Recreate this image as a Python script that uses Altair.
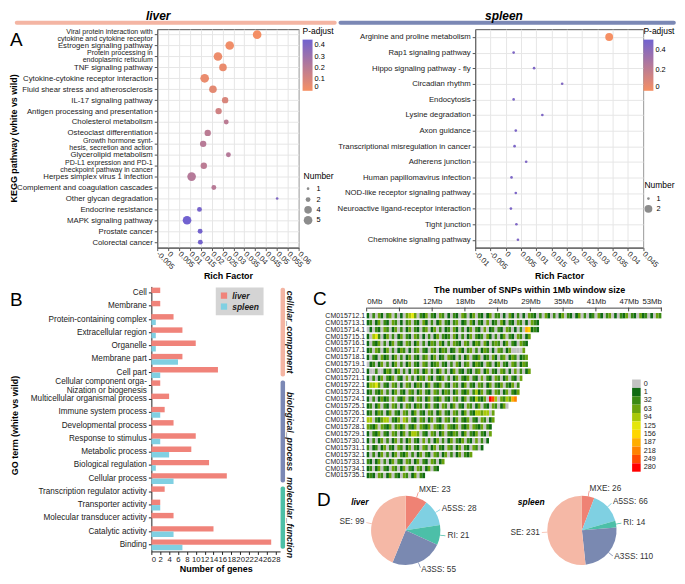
import altair as alt
import pandas as pd

FONT = "Liberation Sans"
ORANGE = "#f58a5c"
PURPLE = "#6a5acd"
LIVER_LINE = "#f4b5a3"
SPLEEN_LINE = "#7b88b5"

# ---------------- Panel A: KEGG enrichment ----------------
liver_pathways = [
    "Viral protein interaction with|cytokine and cytokine receptor",
    "Estrogen signaling pathway",
    "Protein processing in|endoplasmic reticulum",
    "TNF signaling pathway",
    "Cytokine-cytokine receptor interaction",
    "Fluid shear stress and atherosclerosis",
    "IL-17 signaling pathway",
    "Antigen processing and presentation",
    "Cholesterol metabolism",
    "Osteoclast differentiation",
    "Growth hormone synt-|hesis, secretion and action",
    "Glycerolipid metabolism",
    "PD-L1 expression and PD-1|checkpoint pathway in cancer",
    "Herpes simplex virus 1 infection",
    "Complement and coagulation cascades",
    "Other glycan degradation",
    "Endocrine resistance",
    "MAPK signaling pathway",
    "Prostate cancer",
    "Colorectal cancer",
]
liver_rich = [0.0409, 0.0283, 0.0229, 0.0252, 0.0168, 0.0206, 0.0262, 0.0232, 0.0267, 0.0182,
              0.0161, 0.0277, 0.0164, 0.0108, 0.0210, 0.0501, 0.0144, 0.0087, 0.0147, 0.0148]
liver_padj = [0.005, 0.02, 0.03, 0.04, 0.04, 0.06, 0.10, 0.13, 0.20, 0.20,
              0.21, 0.22, 0.20, 0.22, 0.21, 0.40, 0.43, 0.45, 0.44, 0.44]
liver_number = [5, 5, 5, 4, 5, 4, 3, 3, 2, 3, 3, 2, 3, 5, 2, 1, 2, 5, 2, 2]
liver_xticks = [-0.005, 0, 0.005, 0.01, 0.015, 0.02, 0.025, 0.03, 0.035, 0.04, 0.045, 0.05, 0.055, 0.06]

spleen_pathways = [
    "Arginine and proline metabolism",
    "Rap1 signaling pathway",
    "Hippo signaling pathway - fly",
    "Circadian rhythm",
    "Endocytosis",
    "Lysine degradation",
    "Axon guidance",
    "Transcriptional misregulation in cancer",
    "Adherens junction",
    "Human papillomavirus infection",
    "NOD-like receptor signaling pathway",
    "Neuroactive ligand-receptor interaction",
    "Tight junction",
    "Chemokine signaling pathway",
]
spleen_rich = [0.0339, 0.0026, 0.0093, 0.0185, 0.0026, 0.0120, 0.0033,
               0.0029, 0.0067, 0.0019, 0.0033, 0.0017, 0.0035, 0.0040]
spleen_padj = [0.0, 0.45, 0.45, 0.44, 0.46, 0.45, 0.46, 0.46, 0.45, 0.46, 0.46, 0.46, 0.45, 0.45]
spleen_number = [2, 1, 1, 1, 1, 1, 1, 1, 1, 1, 1, 1, 1, 1]
spleen_xticks = [-0.01, -0.005, 0, 0.005, 0.01, 0.015, 0.02, 0.025, 0.03, 0.035, 0.04, 0.045]

# ---------------- Panel B: GO terms ----------------
go_terms = [
    "Cell", "Membrane", "Protein-containing complex", "Extracellular region", "Organelle",
    "Membrane part", "Cell part", "Cellular component orga-|Nization or biogenesis",
    "Multicellular organismal process", "Immune system process", "Developmental process",
    "Response to stimulus", "Metabolic process", "Biological regulation", "Cellular process",
    "Transcription regulator activity", "Transporter activity", "Molecular transducer activity",
    "Catalytic activity", "Binding",
]
go_liver = [2, 2, 5, 7, 10, 7, 15, 2, 4, 3, 5, 10, 9, 13, 17, 3, 2, 5, 14, 27]
go_spleen = [0, 0, 1, 1, 1, 6, 2, 0, 0, 2, 0, 2, 4, 1, 5, 0, 2, 0, 5, 7]
go_groups = ["cellular_component", "biological_process", "molecular_function"]
go_group_first = [0, 7, 15]
go_group_last = [7, 15, 20]
go_group_colors = ["#f4b5a3", "#7b88b5", "#4cbfa6"]

# ---------------- Panel C: SNP density ----------------
chrom_names = [
    "CM015712.1", "CM015713.1", "CM015714.1", "CM015715.1", "CM015716.1", "CM015717.1",
    "CM015718.1", "CM015719.1", "CM015720.1", "CM015721.1", "CM015722.1", "CM015723.1",
    "CM015724.1", "CM015725.1", "CM015726.1", "CM015727.1", "CM015728.1", "CM015729.1",
    "CM015730.1", "CM015731.1", "CM015732.1", "CM015733.1", "CM015734.1", "CM015735.1",
]
# one character per 0.5 Mb window: index into snp_levels
snp_rows = [
    "1020310230201034530213021032010210320130210130220103102010321020310201302101302012031023010213021031201032",
    "12013021032010230210310201302102301203102103012031021032010321",
    "01021032013020130210230130201203102013021030120210320102076121",
    "10452013020130210320102013021203102013021203102013021032013",
    "1021302013021032013020132031020321032013203102320130210321",
    "120320130201320102302103201320120310230201320103201300003",
    "1021031201302013021023013012032102013021301203102301320123",
    "0120130201302013021032012302102031023013210320130210320132",
    "10020013201302010320130201302013021021023013021032010302013",
    "10201302130210302013203102130201302130210302103201302103",
    "1445302103201032013201302130210320130210320130213021302",
    "1202130201302103201302103201320130213024130210320130213",
    "10201312030213021032013021302103201302142130a940324378",
    "120130210320103201320130210320130210320130210320130",
    "1201320130210320130210320130210320130214434403",
    "4402134402130430210320130210320130213021032013",
    "321303213023130213032130321303213021303213021",
    "102130210320130244302103201302132013021302103",
    "10201302013020130210302013020130213021030201",
    "201201302103201302103201302103201302103201",
    "10201302013021302013021032013020130213",
    "2101302013021032013021032013",
    "12013021032013021032013021",
    "121032013021032013021",
]
snp_levels = ["0", "1", "32", "63", "94", "125", "156", "187", "218", "249", "280"]
snp_colors = ["#c2c2c2", "#0f6a12", "#3a8a14", "#6aa30e", "#a8c808", "#e4e60c",
              "#ffd600", "#ffad00", "#ff8200", "#ff4a00", "#ff0000"]
mb_ticks = [0, 5.889, 11.778, 17.667, 23.556, 29.444, 35.333, 41.222, 47.111, 53]

# ---------------- Panel D: alternative splicing ----------------
as_types = ["MXE", "A5SS", "RI", "A3SS", "SE"]
as_colors = ["#ef8274", "#7fd0e2", "#4cbfa8", "#7a89b1", "#f5b8a6"]
liver_as = [23, 28, 21, 55, 99]
spleen_as = [26, 66, 14, 110, 231]


def one_row():
    return pd.DataFrame({"k": [0]})


def label_text(txt, x, y, size, weight="normal", style="normal", align="center",
               baseline="middle", angle=0, color="#000000"):
    return alt.Chart(one_row()).mark_text(
        text=txt, fontSize=size, fontWeight=weight, fontStyle=style,
        align=align, baseline=baseline, angle=angle, color=color,
    ).encode(x=alt.value(x), y=alt.value(y))


def header_line(x1, x2, y, color):
    return alt.Chart(one_row()).mark_rule(strokeWidth=4, strokeCap="round", color=color).encode(
        x=alt.value(x1), x2=alt.value(x2), y=alt.value(y))


def spacer(w, h):
    return alt.Chart(one_row()).mark_point(opacity=0).encode(
        x=alt.value(0), y=alt.value(0)).properties(width=w, height=h)


def independent(ch):
    return ch.resolve_scale(color="independent", size="independent").resolve_legend(
        color="independent", size="independent")


def two_line(value_two, value_one):
    return {"condition": {"test": "indexof(datum.value, '|') >= 0", "value": value_two},
            "value": value_one}


KEGG_H = 219.4


def kegg_points(paths, rich, padj, number, xdom, xticks, pmax, pvals, nvals,
                srange, legx, num_legy, ytitle):
    df = pd.DataFrame({"path": paths, "rich": rich, "padj": padj, "num": number})
    common = dict(labelExpr="split(datum.label, '|')", labelFontSize=two_line(7.1, 7.8),
                  labelLineHeight=7.0, labelOffset=two_line(-3.5, 0),
                  labelColor="#222222", tickSize=3, tickColor="#555555", domainColor="#555555",
                  grid=True, gridColor="#e6e6e6", labelPadding=2, labelLimit=220)
    if ytitle:
        yaxis = alt.Axis(title=ytitle, titleX=-144.5, titleY=109.2, titleAngle=270,
                         titleAlign="center", titleBaseline="middle", titleFontSize=9,
                         titleFontWeight="bold", **common)
    else:
        yaxis = alt.Axis(title=None, **common)
    return alt.Chart(df).mark_circle(opacity=0.95).encode(
        x=alt.X("rich:Q", scale=alt.Scale(domain=xdom, nice=False, zero=False),
                axis=alt.Axis(values=xticks, labelAngle=45, labelAlign="left",
                              labelBaseline="middle", labelPadding=2, labelOverlap=False,
                              labelExpr="(datum.value < -0.000001 ? '-' : '') + format(abs(datum.value), '~g')",
                              grid=True, gridColor="#e6e6e6", title="Rich Factor",
                              titleFontSize=9, titleFontWeight="bold", titleY=28.3,
                              titleBaseline="middle", labelFontSize=7.6, tickSize=3,
                              domainColor="#555555", tickColor="#555555", labelColor="#222222")),
        y=alt.Y("path:N", sort=paths, scale=alt.Scale(padding=0.5), axis=yaxis),
        color=alt.Color("padj:Q", scale=alt.Scale(domain=[0, pmax], range=[ORANGE, PURPLE],
                                                  interpolate="rgb"),
                        legend=alt.Legend(title="P-adjust", orient="none", legendX=legx, legendY=-2,
                                          direction="vertical", gradientLength=51.4,
                                          gradientThickness=10, gradientStrokeWidth=0,
                                          values=pvals, format="~g", titleFontSize=8.5,
                                          titleFontWeight="normal", labelFontSize=7.4,
                                          titlePadding=4)),
        size=alt.Size("num:Q", scale=alt.Scale(domain=[min(nvals), max(nvals)], range=srange),
                      legend=alt.Legend(title="Number", orient="none", legendX=legx + 1,
                                        legendY=num_legy, values=nvals, format="~g",
                                        symbolType="circle",
                                        symbolFillColor="#8c8c8c", symbolStrokeWidth=0,
                                        symbolOpacity=1, titleFontSize=8.5,
                                        titleFontWeight="normal", labelFontSize=7.4,
                                        rowPadding=2)),
    )


liver_pts = kegg_points(liver_pathways, liver_rich, liver_padj, liver_number, [-0.005, 0.06],
                        liver_xticks, 0.45, [0, 0.1, 0.2, 0.3, 0.4], [1, 2, 4, 5],
                        [7, 75], 146, 143, "KEGG pathway (white vs wild)")
liver_A = alt.layer(
    liver_pts,
    header_line(-141.1, 178.3, -6.5, LIVER_LINE),
    label_text("liver", 1, -13.5, 12, "bold", "italic"),
    label_text("A", -148, 16.6, 19, align="left", baseline="alphabetic"),
    view=alt.ViewBackground(stroke="#555555", strokeWidth=1),
).properties(width=142.1, height=KEGG_H)

spleen_pts = kegg_points(spleen_pathways, spleen_rich, spleen_padj, spleen_number, [-0.01, 0.045],
                         spleen_xticks, 0.5, [0, 0.1, 0.2, 0.3, 0.4, 0.5], [1, 2],
                         [7, 62], 169, 153, None)
spleen_A = alt.layer(
    spleen_pts,
    header_line(-135.3, 199.5, -6.5, SPLEEN_LINE),
    label_text("spleen", 28.9, -13.5, 12, "bold", "italic"),
    view=alt.ViewBackground(stroke="#555555", strokeWidth=1),
).properties(width=168.6, height=KEGG_H)

# ---------------- Panel B chart ----------------
B_W = 129.3
B_H = 266.2
go_df = pd.DataFrame({
    "term": go_terms * 2,
    "tissue": ["liver"] * len(go_terms) + ["spleen"] * len(go_terms),
    "genes": go_liver + go_spleen,
})
go_bars = alt.Chart(go_df).mark_bar().encode(
    x=alt.X("genes:Q", scale=alt.Scale(domain=[0, 29], nice=False),
            axis=alt.Axis(values=list(range(0, 29, 2)), title="Number of genes", titleFontSize=9,
                          titleFontWeight="bold", titleY=17.6, titleBaseline="middle",
                          labelFontSize=7.8, labelPadding=1, tickSize=3, domainColor="#222222",
                          tickColor="#222222", grid=False, labelColor="#222222",
                          labelOverlap=False)),
    y=alt.Y("term:N", sort=go_terms, scale=alt.Scale(paddingInner=0.18, paddingOuter=0.09),
            axis=alt.Axis(title="GO term (white vs wild)", titleX=-137.6, titleY=139.2,
                          titleAngle=270, titleAlign="center", titleBaseline="middle",
                          titleFontSize=9, titleFontWeight="bold",
                          labelExpr="split(datum.label, '|')", labelFontSize=8.2,
                          labelLineHeight=8.6, labelOffset=two_line(-3.5, 0),
                          tickSize=3, labelPadding=2, domainColor="#222222",
                          tickColor="#222222", grid=False, labelColor="#222222", labelLimit=220)),
    yOffset=alt.YOffset("tissue:N", sort=["liver", "spleen"]),
    color=alt.Color("tissue:N", scale=alt.Scale(domain=["liver", "spleen"],
                                                range=["#f0837a", "#80d0e2"]),
                    legend=alt.Legend(title=None, orient="none", legendX=64.7, legendY=1,
                                      fillColor="#d4d4d4", padding=4, symbolType="square",
                                      symbolSize=40, symbolStrokeWidth=0, labelFontSize=8.5,
                                      labelFontStyle="italic", labelFontWeight="bold",
                                      rowPadding=2, labelColor="#222222")),
)
grp_df = pd.DataFrame({
    "group": go_groups,
    "top": [s + 0.1 for s in go_group_first],
    "bottom": [e - 0.2 for e in go_group_last],
    "color": go_group_colors,
})
grp_df["mid"] = (grp_df["top"] + grp_df["bottom"]) / 2
grp_scale = alt.Scale(domain=[0, 20], reverse=True, nice=False, zero=False)
grp_bars = alt.Chart(grp_df).mark_rect(cornerRadius=2).encode(
    x=alt.value(129.8), x2=alt.value(134.3),
    y=alt.Y("top:Q", scale=grp_scale, axis=None), y2="bottom:Q",
    fill=alt.Fill("color:N", scale=None, legend=None),
)
grp_text = alt.Chart(grp_df).mark_text(angle=90, fontSize=8.8, fontWeight="bold",
                                       fontStyle="italic", align="center", baseline="middle",
                                       color="#111111").encode(
    x=alt.value(139.5), y=alt.Y("mid:Q", scale=grp_scale, axis=None), text="group:N")
panel_B = alt.layer(
    go_bars, grp_bars, grp_text,
    label_text("B", -142.1, 19.5, 19, align="left", baseline="alphabetic"),
).resolve_scale(y="independent").properties(width=B_W, height=B_H)

# ---------------- Panel C chart ----------------
C_W = 296
C_H = 167.5
recs = []
for name, s in zip(chrom_names, snp_rows):
    for i, ch in enumerate(s):
        recs.append({"chrom": name, "start": i * 0.5, "end": (i + 1) * 0.5,
                     "level": snp_levels[int(ch, 16)]})
snp_df = pd.DataFrame(recs)
snp_color = alt.Scale(domain=snp_levels, range=snp_colors)
mb_scale = alt.Scale(domain=[0, 53], nice=False, zero=False)
mb_axis = alt.Axis(orient="top", values=mb_ticks, labelExpr="round(datum.value) + 'Mb'",
                   ticks=False, grid=False, offset=4.6, labelPadding=2, labelFontSize=7.8,
                   labelOverlap=False, labelBound=False,
                   domainColor="#444444", labelColor="#222222", title=None)
snp_rects = alt.Chart(snp_df).mark_rect().encode(
    x=alt.X("start:Q", scale=mb_scale, axis=mb_axis),
    x2="end:Q",
    y=alt.Y("chrom:N", sort=chrom_names, scale=alt.Scale(paddingInner=0.22, paddingOuter=0.11),
            axis=alt.Axis(title=None, domain=False, ticks=False, labelFontSize=7,
                          labelPadding=2, labelColor="#222222")),
    color=alt.Color("level:N", scale=snp_color, legend=None),
)
tick_rules = alt.Chart(pd.DataFrame({"t": mb_ticks})).mark_rule(color="#444444").encode(
    x=alt.X("t:Q", scale=mb_scale, axis=mb_axis), y=alt.value(-4.6), y2=alt.value(-0.8))
# colour key: a stack of swatches on a band scale of its own
key_df = pd.DataFrame({"level": snp_levels})
key_scale = alt.Scale(domain=snp_levels, range=[67.6, 160.2], paddingInner=0, paddingOuter=0)
key_rects = alt.Chart(key_df).mark_rect().encode(
    x=alt.value(266.6), x2=alt.value(275.2),
    y=alt.Y("level:N", sort=snp_levels, scale=key_scale, axis=None),
    color=alt.Color("level:N", scale=snp_color, legend=None),
)
key_text = alt.Chart(key_df).mark_text(align="left", baseline="middle", fontSize=7.3,
                                       color="#222222").encode(
    x=alt.value(278.2),
    y=alt.Y("level:N", sort=snp_levels, scale=key_scale, axis=None),
    text="level:N",
)
panel_C = alt.layer(
    snp_rects, tick_rules, key_rects, key_text,
    label_text("The number of SNPs within 1Mb window size", 163.7, -22.3, 9, "bold"),
    label_text("C", -53.9, -6.8, 19, align="left", baseline="alphabetic"),
).resolve_scale(y="independent").properties(width=C_W, height=C_H)

# ---------------- Panel D charts ----------------
PIE = 78.4
R = 34.8


def pie_panel(counts, title, title_x, letter):
    df = pd.DataFrame({"type": as_types, "n": counts, "idx": list(range(len(as_types)))})
    base = alt.Chart(df).transform_joinaggregate(total="sum(n)").transform_window(
        cum="sum(n)", sort=[alt.SortField(field="idx", order="ascending")]
    ).transform_calculate(
        t0="(datum.cum - datum.n) / datum.total",
        t1="datum.cum / datum.total",
        mid="(datum.cum - datum.n / 2) / datum.total",
        l0="(datum.cum - datum.n / 2) / datum.total - 0.0015",
        l1="(datum.cum - datum.n / 2) / datum.total + 0.0015",
        lab="datum.type + ': ' + datum.n",
    )
    tscale = alt.Scale(domain=[0, 1], range=[0, 6.283185307])
    cscale = alt.Scale(domain=as_types, range=as_colors)
    arcs = base.mark_arc(outerRadius=R).encode(
        theta=alt.Theta("t0:Q", stack=None, scale=tscale), theta2="t1:Q",
        color=alt.Color("type:N", scale=cscale, legend=None))
    leaders = base.mark_arc(innerRadius=R, outerRadius=R + 5.5).encode(
        theta=alt.Theta("l0:Q", stack=None, scale=tscale), theta2="l1:Q",
        color=alt.Color("type:N", scale=cscale, legend=None))
    right = base.transform_filter("datum.mid < 0.5").mark_text(
        radius=R + 7.5, align="left", baseline="middle", fontSize=8.3, color="#333333"
    ).encode(theta=alt.Theta("mid:Q", stack=None, scale=tscale), text="lab:N")
    left = base.transform_filter("datum.mid >= 0.5").mark_text(
        radius=R + 7.5, align="right", baseline="middle", fontSize=8.3, color="#333333"
    ).encode(theta=alt.Theta("mid:Q", stack=None, scale=tscale), text="lab:N")
    layers = [arcs, leaders, right, left,
              label_text(title, title_x, 10.8, 8.5, "bold", "italic")]
    if letter:
        layers.append(label_text("D", -50, 15, 19, align="left", baseline="alphabetic"))
    return alt.layer(*layers).properties(width=PIE, height=PIE)


pie_liver = pie_panel(liver_as, "liver", -6.9, True)
pie_spleen = pie_panel(spleen_as, "spleen", -11.8, False)

# ---------------- Layout ----------------
# With flush bounds a nested concat counts as size 0, so the spacing after it is
# the full offset between the origins.
row1 = independent(alt.hconcat(
    spacer(1, KEGG_H), independent(alt.hconcat(liver_A, spleen_A, spacing=176.4, bounds="flush")),
    spacing=4.9, bounds="flush"))
right_col = independent(alt.vconcat(
    spacer(1, 13.1), panel_C,
    independent(alt.hconcat(pie_liver, pie_spleen, spacing=98, bounds="flush")),
    spacing=11.9, bounds="flush"))
row2 = independent(alt.hconcat(panel_B, right_col, spacing=86.3, bounds="flush"))

chart = independent(alt.vconcat(row1, row2, spacing=KEGG_H + 39.0, bounds="flush", padding=0)).configure(
    font=FONT).configure_view(stroke="transparent")

chart.save("out.html", embed_options={"renderer": "svg", "actions": False})
